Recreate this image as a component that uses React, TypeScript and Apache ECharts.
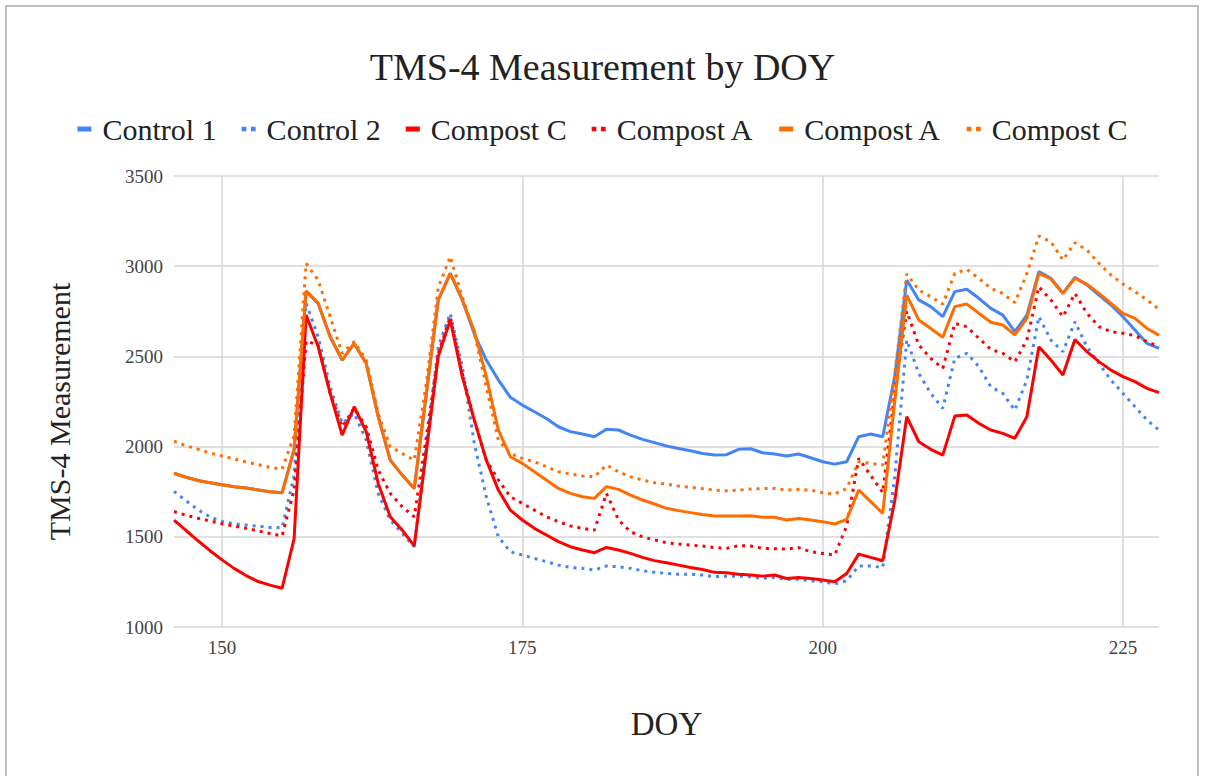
import React, { useEffect, useRef } from "react";
import * as echarts from "echarts";

// Day of year (x values)
const doy: number[] = [
  146, 147, 148, 149, 150, 151, 152, 153, 154, 155, 156, 157, 158, 159, 160, 161, 162, 163, 164, 165,
  166, 167, 168, 169, 170, 171, 172, 173, 174, 175, 176, 177, 178, 179, 180, 181, 182, 183, 184, 185,
  186, 187, 188, 189, 190, 191, 192, 193, 194, 195, 196, 197, 198, 199, 200, 201, 202, 203, 204, 205,
  206, 207, 208, 209, 210, 211, 212, 213, 214, 215, 216, 217, 218, 219, 220, 221, 222, 223, 224, 225,
  226, 227, 228,
];

const control1: number[] = [
  1852, 1830, 1812, 1800, 1788, 1778, 1770, 1760, 1750, 1744, 1985, 2862, 2794, 2609, 2480, 2572, 2461, 2166, 1925, 1842,
  1768, 2290, 2813, 2960, 2813, 2625, 2480, 2370, 2273, 2230, 2193, 2156, 2110, 2083, 2070, 2055, 2096, 2092, 2064, 2040,
  2022, 2003, 1990, 1977, 1962, 1953, 1955, 1985, 1988, 1966, 1959, 1948, 1959, 1938, 1916, 1903, 1916, 2055, 2070, 2055,
  2388, 2923, 2813, 2776, 2720, 2859, 2872, 2822, 2766, 2729, 2637, 2729, 2970, 2933, 2849, 2938, 2896, 2840, 2785, 2720,
  2646, 2572, 2545,
];

const control2: number[] = [
  1752, 1700, 1650, 1610, 1585, 1572, 1565, 1558, 1552, 1550, 1840, 2794, 2609, 2332, 2129, 2184, 2036, 1741, 1593, 1519,
  1445, 2000, 2554, 2739, 2443, 2018, 1722, 1500, 1417, 1399, 1380, 1362, 1343, 1330, 1325, 1316, 1338, 1334, 1325, 1312,
  1303, 1297, 1293, 1292, 1288, 1279, 1282, 1282, 1279, 1269, 1275, 1264, 1264, 1256, 1251, 1238, 1256, 1338, 1338, 1330,
  1833, 2591, 2406, 2295, 2212, 2489, 2517, 2443, 2332, 2295, 2202, 2369, 2720, 2591, 2526, 2692, 2554, 2461, 2369, 2295,
  2221, 2147, 2092,
];

const compostCRed: number[] = [
  1593, 1535, 1478, 1423, 1372, 1325, 1285, 1252, 1232, 1215, 1490, 2730, 2554, 2295, 2064, 2221, 2083, 1796, 1611, 1537,
  1450, 1970, 2500, 2702, 2388, 2147, 1925, 1759, 1648, 1593, 1547, 1510, 1473, 1445, 1427, 1412, 1441, 1427, 1408, 1386,
  1368, 1356, 1343, 1330, 1319, 1303, 1301, 1293, 1288, 1282, 1288, 1269, 1275, 1269, 1260, 1251, 1297, 1404, 1386, 1367,
  1700, 2166, 2027, 1985, 1953, 2169, 2175, 2129, 2092, 2073, 2046, 2166, 2554, 2480, 2397, 2594, 2526, 2471, 2424, 2388,
  2360, 2323, 2299,
];

const compostARedDotted: number[] = [
  1640, 1620, 1603, 1588, 1572, 1560, 1547, 1533, 1518, 1505, 1760, 2585, 2563, 2295, 2110, 2212, 2110, 1870, 1741, 1667,
  1611, 2050, 2517, 2720, 2406, 2147, 1925, 1815, 1722, 1685, 1648, 1611, 1584, 1560, 1547, 1537, 1741, 1593, 1528, 1500,
  1482, 1467, 1460, 1454, 1449, 1440, 1436, 1451, 1449, 1436, 1434, 1432, 1440, 1417, 1408, 1399, 1560, 1935, 1840, 1745,
  2300, 2750, 2563, 2489, 2434, 2683, 2665, 2600, 2539, 2517, 2471, 2591, 2886, 2813, 2720, 2849, 2739, 2665, 2637, 2628,
  2615, 2582, 2554,
];

const compostAOrange: number[] = [
  1852, 1830, 1812, 1800, 1788, 1778, 1770, 1760, 1750, 1744, 1985, 2862, 2794, 2609, 2480, 2572, 2461, 2166, 1925, 1842,
  1768, 2290, 2813, 2960, 2813, 2640, 2388, 2092, 1944, 1907, 1861, 1815, 1768, 1741, 1722, 1713, 1778, 1763, 1731, 1704,
  1682, 1658, 1645, 1634, 1624, 1615, 1615, 1615, 1617, 1608, 1608, 1593, 1602, 1593, 1584, 1571, 1597, 1759, 1695, 1630,
  2250, 2840, 2702, 2655, 2606, 2776, 2790, 2739, 2689, 2674, 2619, 2711, 2960, 2929, 2849, 2933, 2901, 2849, 2794, 2739,
  2711, 2655, 2618,
];

const compostCOrangeDotted: number[] = [
  2030, 2005, 1985, 1965, 1948, 1932, 1915, 1900, 1885, 1875, 2060, 3015, 2923, 2720, 2517, 2582, 2480, 2184, 2000, 1962,
  1925, 2350, 2880, 3053, 2830, 2628, 2332, 2036, 1962, 1935, 1916, 1889, 1861, 1848, 1837, 1833, 1898, 1861, 1833, 1815,
  1800, 1792, 1781, 1774, 1767, 1759, 1755, 1759, 1765, 1767, 1768, 1759, 1763, 1759, 1744, 1737, 1768, 1916, 1907, 1898,
  2400, 2957, 2868, 2831, 2790, 2960, 2982, 2933, 2877, 2849, 2798, 2960, 3167, 3136, 3034, 3130, 3090, 3016, 2951, 2901,
  2859, 2813, 2761,
];

const xTicks = [150, 175, 200, 225];
const yTicks = [1000, 1500, 2000, 2500, 3000, 3500];

const SERIF = "Liberation Serif";
const BLUE = "#4285F4";
const RED = "#FF0000";
const ORANGE = "#FF6D01";

const SOLID_ICON = "path://M0,0H14V5H0Z";
const DOT_ICON = "path://M0,0H4V4H0Z M8,0H12V4H8Z";

type Def = { name: string; values: number[]; color: string; dotted: boolean };
const defs: Def[] = [
  { name: "Control 1", values: control1, color: BLUE, dotted: false },
  { name: "Control 2", values: control2, color: BLUE, dotted: true },
  { name: "Compost C", values: compostCRed, color: RED, dotted: false },
  { name: "Compost A", values: compostARedDotted, color: RED, dotted: true },
  { name: "Compost A ", values: compostAOrange, color: ORANGE, dotted: false },
  { name: "Compost C ", values: compostCOrangeDotted, color: ORANGE, dotted: true },
];

export default function App() {
  const ref = useRef<HTMLDivElement>(null);
  useEffect(() => {
    if (!ref.current) return;
    const chart = echarts.init(ref.current, undefined, { renderer: "svg" });
    chart.setOption({
      animation: false,
      backgroundColor: "#ffffff",
      textStyle: { fontFamily: SERIF },
      title: {
        text: "TMS-4 Measurement by DOY",
        left: "center",
        top: 43,
        textStyle: { fontFamily: SERIF, fontSize: 38, fontWeight: "normal", color: "#222" },
      },
      legend: {
        top: 109,
        left: "center",
        itemWidth: 14,
        itemHeight: 5,
        itemGap: 25,
        formatter: (n: string) => n.trim(),
        textStyle: { fontFamily: SERIF, fontSize: 30, color: "#222", padding: [0, 0, 0, 6] },
        itemStyle: { borderWidth: 0 },
        data: defs.map((d) => ({
          name: d.name,
          icon: d.dotted ? DOT_ICON : SOLID_ICON,
          itemStyle: { color: d.color, borderWidth: 0 },
        })),
      },
      graphic: [
        {
          type: "rect",
          silent: true,
          shape: { x: 6, y: 6, width: 1192, height: 800 },
          style: { fill: "none", stroke: "#a8a8a8", lineWidth: 1.5 },
        },
      ],
      grid: { left: 174, right: 46, top: 176, bottom: 149, containLabel: false },
      xAxis: {
        type: "value",
        min: 146,
        max: 228,
        name: "DOY",
        nameLocation: "middle",
        nameGap: 80,
        nameTextStyle: { fontFamily: SERIF, fontSize: 33, color: "#222" },
        axisLine: { show: false },
        axisTick: { show: false, customValues: xTicks },
        axisLabel: {
          fontFamily: SERIF,
          fontSize: 19,
          color: "#444",
          margin: 11,
          customValues: xTicks,
          formatter: (v: number) => String(v),
        },
        splitLine: { show: true, lineStyle: { color: "#d6d6d6", width: 1.5 } },
        axisPointer: { show: false },
      },
      yAxis: {
        type: "value",
        min: 1000,
        max: 3500,
        interval: 500,
        name: "TMS-4 Measurement",
        nameLocation: "middle",
        nameGap: 100,
        nameTextStyle: { fontFamily: SERIF, fontSize: 30, color: "#222", padding: [0, 20, 0, 0] },
        axisLine: { show: false },
        axisTick: { show: false, customValues: yTicks },
        axisLabel: {
          fontFamily: SERIF,
          fontSize: 19,
          color: "#444",
          margin: 11,
          customValues: yTicks,
          formatter: (v: number) => String(v),
        },
        splitLine: { show: true, lineStyle: { color: "#d6d6d6", width: 1.5 } },
      },
      series: defs.map((d) => ({
        name: d.name,
        type: "line",
        showSymbol: false,
        symbol: "none",
        data: doy.map((x, i) => [x, d.values[i]]),
        itemStyle: { color: d.color },
        lineStyle: {
          color: d.color,
          width: 3,
          type: d.dotted ? [3, 5] : "solid",
          cap: "butt",
        },
        emphasis: { disabled: true },
      })),
    });
    return () => chart.dispose();
  }, []);
  return (
    <div
      ref={ref}
      style={{ position: "fixed", left: 0, top: 0, width: 1205, height: 776, background: "#fff" }}
    />
  );
}
